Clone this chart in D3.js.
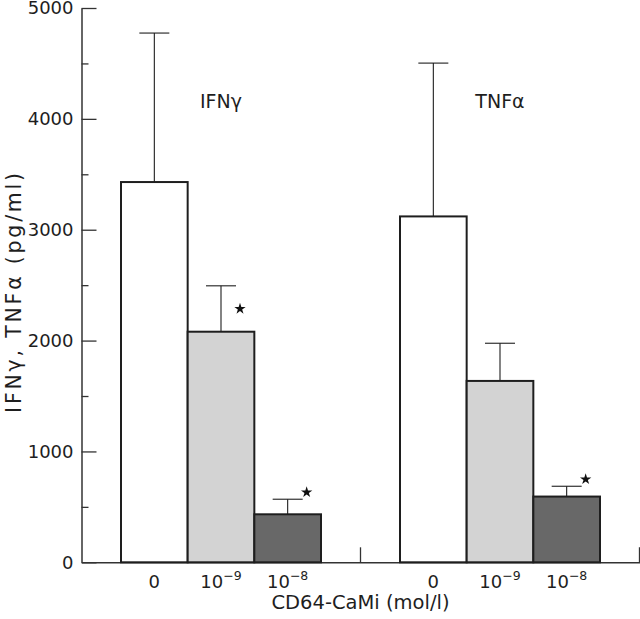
<!DOCTYPE html>
<html>
<head>
<meta charset="utf-8">
<script src="https://cdn.jsdelivr.net/npm/d3@7"></script>
<style>
  html, body { margin: 0; padding: 0; background: #fff; }
  svg { display: block; font-family: "DejaVu Sans", sans-serif; }
</style>
</head>
<body>
<svg id="chart" width="640" height="619"></svg>
<script>
// ---- data ----
const groups = ["IFNγ", "TNFα"];
const concentrations = ["0", "10-9", "10-8"];
const concLabels = [
  { base: "10", exp: "" , plain: "0" },
  { base: "10", exp: "−9", plain: null },
  { base: "10", exp: "−8", plain: null }
];
const meanIFN = [3430, 2080, 433];
const meanTNF = [3120, 1636, 593];
const upperIFN = [4774, 2494, 569];
const upperTNF = [4503, 1976, 686];
const significantIFN = [false, true, true];
const significantTNF = [false, false, true];
const yTicks = [0, 1000, 2000, 3000, 4000, 5000];
const yMinorTicks = [500, 1500, 2500, 3500, 4500];
const fills = ["#ffffff", "#d3d3d3", "#686868"];

(function () {
const rows = [];
groups.forEach((g, gi) => {
  const means = gi === 0 ? meanIFN : meanTNF;
  const uppers = gi === 0 ? upperIFN : upperTNF;
  const sig = gi === 0 ? significantIFN : significantTNF;
  concentrations.forEach((c, ci) => {
    rows.push({ group: g, conc: c, ci, mean: means[ci], upper: uppers[ci], sig: sig[ci] });
  });
});

// ---- layout ----
const svg = d3.select("#chart");
const mLeft = 81.5, mRight = 639.5, mTop = 8, mBottom = 562.3;

const x0 = d3.scaleBand().domain(groups).range([mLeft, mRight]).padding(0);
const x1 = d3.scaleBand().domain(concentrations).range([0, x0.bandwidth()])
  .paddingInner(0).paddingOuter(0.5925);
const y = d3.scaleLinear().domain([0, 5000]).range([mBottom, mTop]);
const color = d3.scaleOrdinal().domain(concentrations).range(fills);

const ink = "#1e1e1e";

// y axis major
const yAxis = d3.axisLeft(y).tickValues(yTicks).tickSizeInner(-15).tickSizeOuter(0)
  .tickPadding(8).tickFormat(d3.format("d"));
const gy = svg.append("g").attr("transform", `translate(${mLeft},0)`).call(yAxis);
gy.select(".domain").attr("stroke", "#333").attr("stroke-width", 1.5);
gy.selectAll(".tick line").attr("stroke", "#333").attr("stroke-width", 1.3);
gy.selectAll(".tick text").attr("font-size", 18).attr("fill", ink)
  .attr("font-family", "DejaVu Sans, sans-serif");

// y axis minor
const yMinor = d3.axisLeft(y).tickValues(yMinorTicks).tickSizeInner(-7).tickSizeOuter(0).tickFormat("");
const gym = svg.append("g").attr("transform", `translate(${mLeft},0)`).call(yMinor);
gym.select(".domain").remove();
gym.selectAll(".tick line").attr("stroke", "#333").attr("stroke-width", 1.3);

// x axis baseline
const xAxis = d3.axisBottom(x0).tickSize(0).tickFormat("");
const gx = svg.append("g").attr("transform", `translate(0,${mBottom})`).call(xAxis);
gx.select(".domain").attr("stroke", "#333").attr("stroke-width", 1.5);
gx.selectAll(".tick").remove();

// group separator ticks
svg.append("g").selectAll("line").data(groups).join("line")
  .attr("x1", d => x0(d) + x0.bandwidth())
  .attr("x2", d => x0(d) + x0.bandwidth())
  .attr("y1", mBottom).attr("y2", mBottom - 15)
  .attr("stroke", "#333").attr("stroke-width", 1.3);

// error bars
const capHalf = 15;
const eg = svg.append("g");
eg.selectAll("line.stem").data(rows).join("line").attr("class", "stem")
  .attr("x1", d => x0(d.group) + x1(d.conc) + x1.bandwidth() / 2)
  .attr("x2", d => x0(d.group) + x1(d.conc) + x1.bandwidth() / 2)
  .attr("y1", d => y(d.mean)).attr("y2", d => y(d.upper))
  .attr("stroke", ink).attr("stroke-width", 1.1);
eg.selectAll("line.cap").data(rows).join("line").attr("class", "cap")
  .attr("x1", d => x0(d.group) + x1(d.conc) + x1.bandwidth() / 2 - capHalf)
  .attr("x2", d => x0(d.group) + x1(d.conc) + x1.bandwidth() / 2 + capHalf)
  .attr("y1", d => y(d.upper)).attr("y2", d => y(d.upper))
  .attr("stroke", ink).attr("stroke-width", 1.1);

// bars
svg.append("g").selectAll("rect").data(rows).join("rect")
  .attr("x", d => x0(d.group) + x1(d.conc))
  .attr("y", d => y(d.mean))
  .attr("width", x1.bandwidth())
  .attr("height", d => y(0) - y(d.mean))
  .attr("fill", d => color(d.conc))
  .attr("stroke", ink).attr("stroke-width", 2);

// significance stars
const star = d3.symbol().type(d3.symbolStar).size(40);
svg.append("g").selectAll("path").data(rows.filter(d => d.sig)).join("path")
  .attr("d", star)
  .attr("transform", d => {
    const cx = x0(d.group) + x1(d.conc) + x1.bandwidth() / 2 + 19;
    const cy = d.ci === 1 ? y(d.upper) + 23 : y(d.upper) - 7;
    return `translate(${cx},${cy})`;
  })
  .attr("fill", "#111");

// x tick labels
const xl = svg.append("g").attr("font-size", 18).attr("fill", ink).attr("text-anchor", "middle");
rows.forEach(d => {
  const cx = x0(d.group) + x1(d.conc) + x1.bandwidth() / 2;
  const t = xl.append("text").attr("x", cx).attr("y", 588);
  const lab = concLabels[d.ci];
  if (lab.plain !== null) {
    t.text(lab.plain);
  } else {
    t.append("tspan").text(lab.base);
    t.append("tspan").attr("dy", -8).attr("font-size", 12.5).text(lab.exp);
  }
});

// group labels
svg.append("g").selectAll("text").data(groups).join("text")
  .attr("x", d => x0(d) + x0.bandwidth() / 2)
  .attr("y", y(4100))
  .attr("text-anchor", "middle")
  .attr("font-size", 19)
  .attr("fill", ink)
  .text(d => d);

// axis titles
svg.append("text")
  .attr("x", (mLeft + mRight) / 2).attr("y", 609)
  .attr("text-anchor", "middle").attr("font-size", 19.5).attr("fill", ink)
  .text("CD64-CaMi (mol/l)");

svg.append("text")
  .attr("transform", `translate(21,${y(2430)}) rotate(-90)`)
  .attr("text-anchor", "middle").attr("font-size", 20.5).attr("fill", ink)
  .attr("textLength", 240).attr("lengthAdjust", "spacing")
  .text("IFNγ, TNFα (pg/ml)");
})();
</script>
</body>
</html>
